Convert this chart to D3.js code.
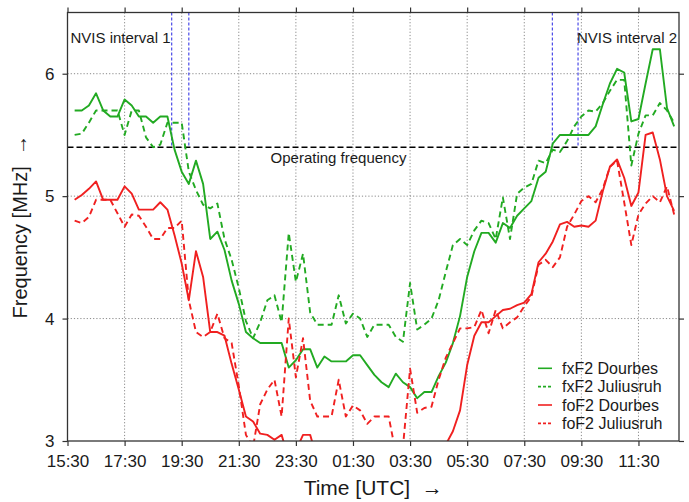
<!DOCTYPE html>
<html><head><meta charset="utf-8">
<script src="https://cdn.jsdelivr.net/npm/d3@7"></script>
<style>
body{margin:0;background:#fff}
svg{display:block}
text{font-family:"Liberation Sans",Arial,Helvetica,sans-serif;fill:#1a1a1a}
</style>
</head><body><svg id="c" width="689" height="502"></svg>
<script>
const times = ["15:45","16:00","16:15","16:30","16:45","17:00","17:15","17:30","17:45","18:00",
"18:15","18:30","18:45","19:00","19:15","19:30","19:45","20:00","20:15","20:30",
"20:45","21:00","21:15","21:30","21:45","22:00","22:15","22:30","22:45","23:00",
"23:15","23:30","23:45","00:00","00:15","00:30","00:45","01:00","01:15","01:30",
"01:45","02:00","02:15","02:30","02:45","03:00","03:15","03:30","03:45","04:00",
"04:15","04:30","04:45","05:00","05:15","05:30","05:45","06:00","06:15","06:30",
"06:45","07:00","07:15","07:30","07:45","08:00","08:15","08:30","08:45","09:00",
"09:15","09:30","09:45","10:00","10:15","10:30","10:45","11:00","11:15","11:30",
"11:45","12:00","12:15","12:30","12:45"];

const fxF2Dourbes = [5.70,5.70,5.74,5.84,5.70,5.65,5.65,5.79,5.74,5.65,
5.65,5.60,5.65,5.65,5.38,5.20,5.10,5.29,5.10,4.65,
4.71,4.56,4.31,4.12,3.89,3.84,3.80,3.80,3.80,3.80,
3.60,3.66,3.75,3.75,3.60,3.69,3.65,3.65,3.65,3.70,
3.70,3.62,3.54,3.48,3.44,3.55,3.48,3.44,3.35,3.40,
3.40,3.53,3.64,3.80,4.02,4.34,4.55,4.70,4.70,4.62,
4.78,4.74,4.84,4.90,4.96,5.15,5.20,5.43,5.50,5.50,
5.50,5.50,5.50,5.57,5.75,5.92,6.04,6.01,5.61,5.63,
5.92,6.20,6.20,5.72,5.57];

const fxF2Juliusruh = [5.50,5.51,5.60,5.70,5.70,5.70,5.70,5.50,5.70,5.70,
5.48,5.40,5.42,5.60,5.60,5.60,5.20,5.05,4.93,4.90,
4.94,4.65,4.48,4.25,3.98,3.84,3.97,4.15,4.19,3.97,
4.70,4.30,4.53,4.05,3.95,3.95,3.95,4.19,3.96,4.04,
4.00,3.85,3.95,3.95,3.95,3.85,3.81,4.29,3.91,3.95,
4.00,4.15,4.38,4.60,4.65,4.60,4.72,4.80,4.78,4.65,
4.99,4.65,5.02,5.07,5.10,5.29,5.27,5.38,5.36,5.45,
5.57,5.65,5.70,5.69,5.76,5.86,5.95,5.95,5.25,5.51,
5.66,5.66,5.76,5.70,5.60];

const foF2Dourbes = [4.97,5.01,5.06,5.12,4.97,4.97,4.97,5.08,5.02,4.89,
4.89,4.89,4.95,4.89,4.68,4.45,4.15,4.55,4.34,3.89,
3.89,3.86,3.63,3.42,3.20,3.16,3.06,3.05,3.01,3.05,
2.85,2.92,3.05,3.05,2.85,2.80,2.80,2.75,2.75,2.80,
2.80,2.75,2.70,2.70,2.70,2.70,2.70,2.70,2.70,2.75,
2.80,2.90,2.97,3.08,3.25,3.62,3.86,3.97,3.97,4.02,
4.07,4.08,4.11,4.13,4.20,4.46,4.53,4.63,4.77,4.79,
4.75,4.76,4.75,4.80,5.04,5.24,5.30,5.15,4.92,5.03,
5.50,5.52,5.30,5.00,4.88];

const foF2Juliusruh = [4.80,4.78,4.83,4.97,4.97,4.97,4.86,4.75,4.85,4.84,
4.75,4.65,4.65,4.74,4.74,4.80,4.15,3.89,3.85,3.89,
4.04,3.84,3.80,3.45,3.05,2.95,3.30,3.42,3.50,3.20,
4.00,3.52,3.84,3.33,3.20,3.20,3.20,3.50,3.20,3.29,
3.25,3.14,3.20,3.20,3.20,2.90,2.95,3.59,3.23,3.27,
3.28,3.50,3.68,3.80,3.92,3.92,3.93,4.07,3.88,4.07,
3.92,3.97,4.01,4.10,4.18,4.44,4.48,4.42,4.50,4.75,
4.85,4.96,5.00,4.95,5.06,5.24,5.29,4.95,4.60,4.85,
4.94,5.00,4.95,5.08,4.85];

const xTickLabels = ["15:30","17:30","19:30","21:30","23:30","01:30","03:30","05:30","07:30","09:30","11:30"];
const yTickValues = [3,4,5,6];
const operatingFrequency = 5.4;
const nvisInterval1 = ["19:09","19:45"];
const nvisInterval2 = ["08:29","09:23"];
const legendLabels = ["fxF2 Dourbes","fxF2 Juliusruh","foF2 Dourbes","foF2 Juliusruh"];

const GREEN = "#22aa22", RED = "#f02020", BLUE = "#3a3ae6";

function toHours(t){
  const [h,m] = t.split(":").map(Number);
  let mins = h*60+m;
  if (mins < 930) mins += 1440;
  return (mins-930)/60;
}

const L=67.5, R=679, T=12.5, B=441;
const x = d3.scaleLinear().domain([0, 21.42]).range([L, R]);
const y = d3.scaleLinear().domain([3, 6.5]).range([B, T]);
const svg = d3.select("#c");

svg.append("defs").append("clipPath").attr("id","plot")
  .append("rect").attr("x",L).attr("y",T).attr("width",R-L).attr("height",B-T);

const xt = xTickLabels.map(toHours);

// grid
const grid = svg.append("g").attr("stroke","#8a8a8a").attr("stroke-width",1).attr("stroke-dasharray","1.2,2");
grid.selectAll("line.gx").data(xt.slice(1)).join("line")
  .attr("x1",d=>x(d)).attr("x2",d=>x(d)).attr("y1",T).attr("y2",B);
grid.selectAll("line.gy").data(yTickValues.filter(v=>v>3)).join("line")
  .attr("x1",L).attr("x2",R).attr("y1",d=>y(d)).attr("y2",d=>y(d));

// NVIS lines
const nv = nvisInterval1.concat(nvisInterval2).map(toHours);
svg.append("g").selectAll("line").data(nv).join("line")
  .attr("x1",d=>x(d)).attr("x2",d=>x(d)).attr("y1",T).attr("y2",y(operatingFrequency))
  .attr("stroke",BLUE).attr("stroke-width",1.1).attr("stroke-dasharray","3,2");

// operating frequency
svg.append("line").attr("x1",L).attr("x2",R)
  .attr("y1",y(operatingFrequency)).attr("y2",y(operatingFrequency))
  .attr("stroke","#000").attr("stroke-width",1.5).attr("stroke-dasharray","6,3");

// series
const series = [
  {vals:fxF2Dourbes, color:GREEN, dash:null},
  {vals:fxF2Juliusruh, color:GREEN, dash:"6,4"},
  {vals:foF2Dourbes, color:RED, dash:null},
  {vals:foF2Juliusruh, color:RED, dash:"6,4"}
];
const line = d3.line().x(d=>x(d.t)).y(d=>y(d.v));
const lg = svg.append("g").attr("clip-path","url(#plot)");
series.forEach(s=>{
  const pts = times.map((t,i)=>({t:toHours(t), v:s.vals[i]}));
  lg.append("path").datum(pts).attr("d",line).attr("fill","none")
    .attr("stroke",s.color).attr("stroke-width",1.9)
    .attr("stroke-linejoin","round")
    .attr("stroke-dasharray",s.dash);
});

// frame
svg.append("rect").attr("x",L).attr("y",T).attr("width",R-L).attr("height",B-T)
  .attr("fill","none").attr("stroke","#333").attr("stroke-width",1.3);

// axes
const fs = "17px";
const ax = svg.append("g").attr("transform",`translate(0,${B})`)
  .call(d3.axisBottom(x).tickValues(xt).tickFormat((d,i)=>xTickLabels[i]).tickSize(5).tickPadding(9).tickSizeOuter(0));
svg.append("g").attr("transform",`translate(0,${T})`)
  .call(d3.axisTop(x).tickValues(xt).tickFormat("").tickSize(5).tickSizeOuter(0));
const ay = svg.append("g").attr("transform",`translate(${L},0)`)
  .call(d3.axisLeft(y).tickValues(yTickValues).tickFormat(d3.format("d")).tickSize(5).tickPadding(8).tickSizeOuter(0));
svg.append("g").attr("transform",`translate(${R},0)`)
  .call(d3.axisRight(y).tickValues(yTickValues).tickFormat("").tickSize(5).tickSizeOuter(0));
svg.selectAll(".domain").remove();
svg.selectAll(".tick line").attr("stroke","#333").attr("stroke-width",1.2);
svg.selectAll(".tick text").attr("font-size",fs).attr("fill","#1a1a1a")
  .attr("font-family",'"Liberation Sans",Arial,sans-serif');

// labels
svg.append("text").attr("x",70.5).attr("y",42.5).attr("font-size","15px").text("NVIS interval 1");
svg.append("text").attr("x",677).attr("y",42.5).attr("font-size","15px").attr("text-anchor","end").text("NVIS interval 2");
svg.append("text").attr("x",338.5).attr("y",163).attr("font-size","15px").attr("text-anchor","middle").text("Operating frequency");

svg.append("text").attr("x",(L+R)/2).attr("y",495).attr("font-size","21px").attr("text-anchor","middle")
  .attr("xml:space","preserve").text("Time [UTC]  \u2192");
svg.append("text").attr("transform",`translate(27,${(T+B)/2}) rotate(-90)`).attr("font-size","20px")
  .attr("text-anchor","middle").attr("xml:space","preserve").text("Frequency [MHz]  \u2192");

// legend
const leg = svg.append("g");
legendLabels.forEach((lab,i)=>{
  const cy = 368.3 + i*18.35;
  const s = series[i];
  leg.append("line").attr("x1",538).attr("x2",552).attr("y1",cy).attr("y2",cy)
    .attr("stroke",s.color).attr("stroke-width",1.6).attr("stroke-dasharray",s.dash?"3,2":null);
  leg.append("text").attr("x",562).attr("y",cy+5.6).attr("font-size","16px").text(lab);
});
</script>
</body></html>
